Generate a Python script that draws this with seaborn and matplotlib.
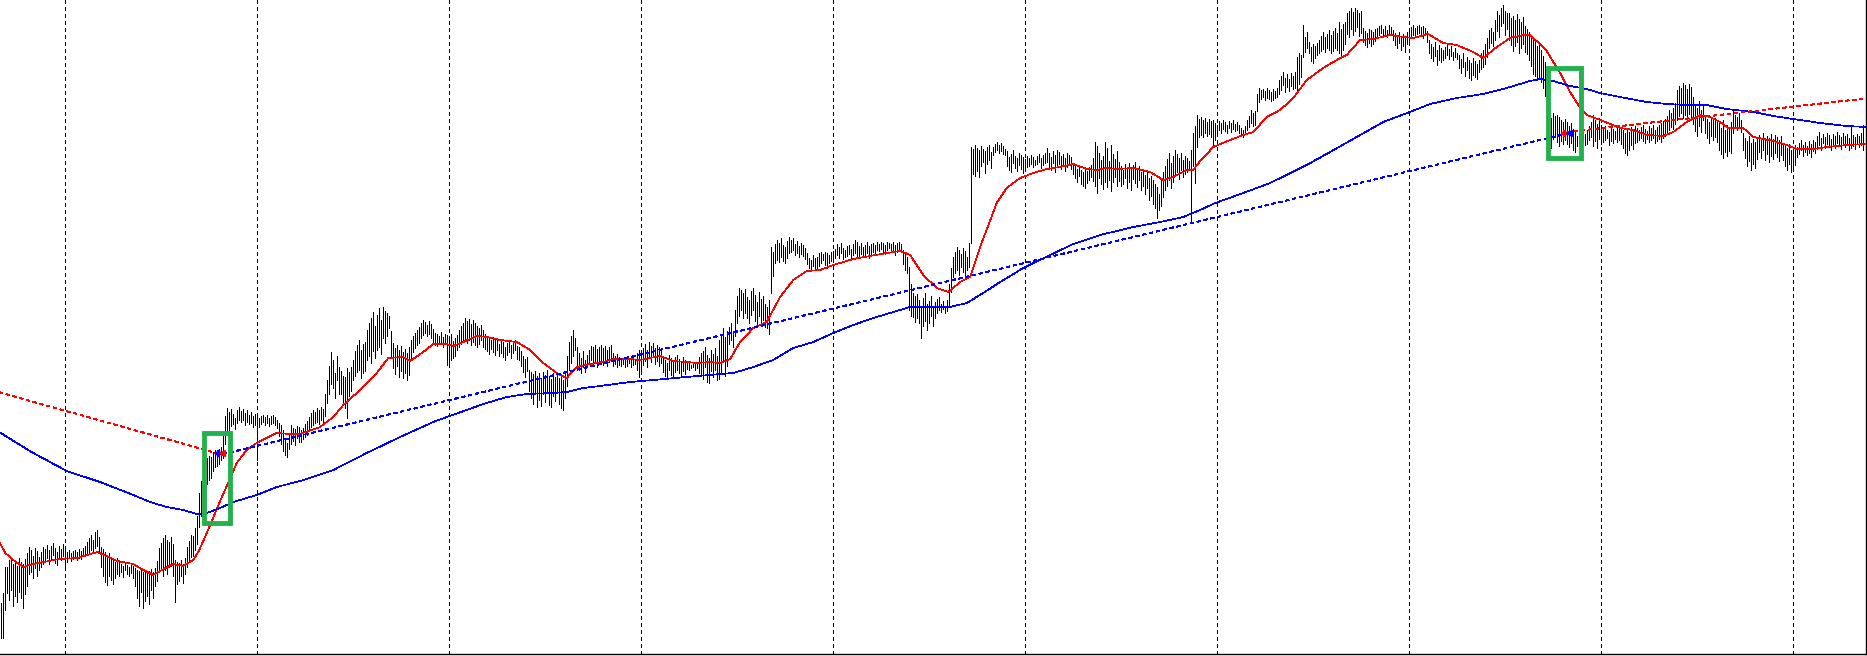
import numpy as np
import pandas as pd
import seaborn as sns
import matplotlib.pyplot as plt
from matplotlib.patches import Rectangle

# bar highs and lows (price points), 15-minute bars, oldest first
highs = [
    53, 63, 89, 89, 96, 98, 92, 96, 90, 98,
    94, 92, 97, 103, 109, 106, 100, 108, 105, 99,
    104, 109, 107, 111, 106, 110, 113, 108, 104, 110,
    107, 112, 106, 104, 106, 103, 105, 106, 104, 107,
    105, 108, 110, 114, 118, 121, 116, 124, 126, 119,
    109, 107, 104, 100, 103, 98, 96, 94, 98, 95,
    92, 90, 94, 91, 89, 92, 90, 88, 86, 85,
    88, 84, 86, 83, 85, 87, 84, 88, 95, 108,
    113, 118, 121, 116, 114, 119, 112, 96, 94, 93,
    96, 92, 98, 109, 115, 121, 120, 128, 140, 163,
    175, 186, 194, 198, 200, 199, 204, 206, 205, 207,
    209, 221, 240, 248, 244, 247, 242, 238, 246, 249,
    245, 247, 243, 246, 241, 244, 240, 242, 243, 238,
    240, 241, 239, 241, 238, 240, 241, 239, 236, 233,
    231, 226, 218, 213, 222, 231, 228, 227, 230, 229,
    226, 228, 232, 235, 239, 243, 246, 244, 248, 246,
    249, 247, 262, 276, 290, 304, 296, 283, 300, 289,
    285, 280, 279, 288, 284, 289, 296, 305, 311, 316,
    306, 312, 314, 326, 333, 338, 344, 330, 341, 348,
    336, 349, 345, 343, 340, 325, 313, 308, 311, 306,
    310, 304, 307, 303, 309, 316, 320, 323, 326, 329,
    333, 336, 334, 331, 335, 332, 327, 323, 322, 320,
    324, 319, 322, 321, 318, 322, 315, 318, 321, 326,
    330, 333, 338, 335, 337, 332, 336, 333, 330, 328,
    331, 326, 322, 319, 318, 316, 319, 317, 316, 312,
    316, 314, 309, 313, 315, 311, 314, 316, 310, 309,
    305, 300, 297, 299, 286, 284, 282, 285, 280, 283,
    278, 284, 281, 286, 280, 277, 283, 279, 284, 278,
    282, 276, 285, 300, 314, 320, 326, 318, 309, 303,
    298, 305, 296, 301, 306, 310, 309, 311, 307, 309,
    311, 308, 310, 306, 309, 311, 303, 300, 302, 299,
    298, 297, 299, 296, 298, 297, 299, 296, 303, 306,
    304, 308, 312, 306, 314, 310, 313, 308, 311, 309,
    306, 300, 296, 293, 301, 298, 294, 299, 301, 297,
    295, 299, 296, 294, 293, 291, 294, 292, 293, 299,
    303, 305, 309, 301, 298, 306, 302, 308, 300, 316,
    322, 328, 319, 325, 329, 333, 323, 346, 360, 368,
    366, 363, 367, 359, 356, 365, 368, 361, 354, 364,
    357, 360, 352, 349, 356, 409, 404, 412, 416, 413,
    418, 411, 409, 415, 419, 416, 418, 412, 415, 410,
    413, 411, 408, 403, 398, 396, 401, 398, 399, 403,
    404, 402, 404, 403, 401, 404, 405, 407, 412, 409,
    413, 408, 406, 410, 411, 407, 412, 416, 414, 410,
    413, 409, 411, 414, 410, 412, 413, 411, 414, 412,
    414, 413, 411, 414, 413, 412, 414, 411, 413, 414,
    412, 406, 403, 399, 389, 372, 363, 360, 362, 356,
    350, 358, 363, 352, 355, 360, 349, 354, 357, 359,
    352, 355, 350, 356, 372, 388, 399, 404, 409, 406,
    402, 408, 405, 399, 413, 509, 507, 511, 508, 506,
    510, 507, 505, 509, 511, 504, 509, 512, 514, 511,
    513, 510, 507, 505, 499, 502, 506, 500, 498, 503,
    501, 499, 497, 500, 498, 501, 499, 496, 500, 502,
    498, 501, 503, 508, 503, 499, 505, 501, 506, 504,
    500, 502, 498, 503, 501, 499, 493, 490, 487, 489,
    486, 484, 488, 485, 489, 491, 498, 514, 510, 503,
    496, 500, 514, 508, 495, 511, 502, 497, 505, 494,
    490, 486, 492, 489, 493, 488, 491, 494, 487, 490,
    484, 486, 481, 484, 478, 480, 476, 472, 469, 462,
    478, 484, 490, 497, 503, 493, 500, 506, 502, 498,
    503, 496, 500, 498, 495, 506, 523, 530, 541, 537,
    539, 536, 538, 534, 537, 535, 536, 533, 531, 535,
    533, 536, 534, 531, 535, 533, 536, 532, 534, 531,
    528, 526, 530, 536, 540, 546, 543, 545, 562, 568,
    566, 567, 565, 568, 566, 564, 567, 565, 568, 576,
    580, 584, 578, 582, 577, 583, 580, 584, 599, 603,
    601, 631, 619, 624, 614, 609, 612, 610, 613, 616,
    620, 624, 619, 622, 626, 621, 625, 628, 623, 634,
    627, 632, 634, 643, 645, 648, 644, 648, 646, 643,
    645, 628, 625, 623, 627, 626, 624, 627, 628, 630,
    631, 627, 630, 626, 631, 629, 626, 623, 621, 624,
    619, 622, 620, 624, 626, 629, 631, 628, 630, 631,
    629, 630, 628, 625, 616, 612, 609, 614, 606, 611,
    608, 606, 609, 611, 607, 610, 604, 608, 603, 601,
    597, 603, 594, 599, 596, 593, 598, 595, 592, 596,
    603, 606, 612, 618, 626, 628, 624, 636, 645, 641,
    648, 651, 645, 643, 643, 638, 640, 636, 642, 637,
    634, 639, 630, 627, 624, 620, 616, 614, 610, 612,
    606, 600, 594, 586, 542, 538, 543, 540, 541, 539,
    536, 534, 537, 534, 530, 533, 527, 526, 520, 523,
    519, 524, 522, 526, 530, 534, 541, 536, 532, 538,
    531, 528, 530, 526, 524, 529, 527, 525, 530, 531,
    528, 526, 523, 527, 524, 529, 525, 530, 528, 526,
    529, 531, 527, 525, 530, 528, 531, 526, 529, 531,
    533, 535, 537, 540, 546, 543, 548, 553, 566, 570,
    568, 573, 571, 567, 572, 569, 559, 552, 548, 555,
    546, 550, 541, 537, 534, 539, 536, 538, 535, 533,
    528, 536, 526, 531, 529, 534, 546, 541, 539, 543,
    536, 523, 518, 515, 520, 513, 517, 514, 519, 521,
    518, 523, 516, 520, 518, 522, 517, 521, 519, 516,
    520, 513, 510, 508, 512, 506, 509, 511, 509, 513,
    516, 511, 514, 510, 515, 512, 516, 514, 520, 524,
    518, 522, 519, 523, 521, 517, 522, 520, 524, 521,
    519, 523, 520, 522, 518, 529, 521, 519, 522, 520,
    523, 531,
]
lows = [
    18, 18, 46, 63, 56, 66, 50, 60, 54, 64,
    58, 48, 62, 70, 82, 84, 78, 88, 80, 86,
    89, 92, 95, 98, 92, 96, 101, 93, 91, 98,
    96, 100, 89, 94, 98, 95, 97, 99, 96, 98,
    97, 100, 101, 103, 104, 106, 103, 108, 110, 104,
    89, 80, 74, 71, 80, 76, 72, 78, 82, 80,
    84, 79, 86, 82, 80, 83, 78, 70, 58, 50,
    64, 48, 55, 60, 52, 66, 58, 70, 75, 84,
    88, 80, 86, 82, 89, 90, 80, 54, 72, 75,
    80, 73, 82, 89, 94, 99, 100, 106, 112, 129,
    140, 152, 169, 172, 176, 178, 185, 189, 190, 192,
    196, 198, 212, 226, 218, 230, 232, 227, 233, 236,
    234, 236, 231, 234, 232, 233, 229, 231, 196, 229,
    232, 234, 231, 233, 230, 232, 233, 231, 228, 220,
    212, 205, 201, 199, 207, 212, 215, 211, 218, 214,
    214, 217, 219, 221, 226, 229, 231, 233, 234, 232,
    236, 234, 240, 253, 262, 272, 268, 258, 276, 262,
    262, 254, 248, 238, 260, 265, 276, 280, 284, 286,
    278, 283, 285, 296, 300, 293, 305, 298, 306, 309,
    302, 318, 313, 320, 328, 300, 288, 282, 290, 279,
    285, 278, 283, 276, 281, 298, 304, 308, 311, 313,
    318, 321, 323, 320, 322, 318, 313, 311, 310, 312,
    314, 309, 312, 291, 293, 296, 298, 300, 306, 309,
    312, 314, 316, 313, 316, 311, 314, 311, 309, 312,
    316, 309, 307, 305, 302, 307, 304, 301, 306, 300,
    303, 299, 296, 301, 304, 298, 303, 306, 297, 296,
    290, 284, 279, 285, 265, 258, 252, 262, 249, 256,
    250, 262, 254, 264, 251, 249, 260, 255, 263, 252,
    248, 246, 258, 270, 286, 293, 300, 306, 290, 286,
    283, 289, 284, 293, 292, 296, 290, 294, 289, 293,
    296, 291, 295, 290, 294, 296, 290, 292, 289, 291,
    290, 292, 289, 290, 293, 289, 291, 292, 286, 279,
    283, 291, 295, 289, 298, 294, 299, 292, 295, 290,
    293, 284, 280, 278, 286, 281, 279, 284, 286, 283,
    280, 285, 282, 287, 286, 288, 289, 286, 288, 283,
    280, 277, 289, 274, 273, 285, 279, 286, 276, 277,
    283, 296, 280, 290, 312, 316, 309, 320, 333, 340,
    346, 338, 343, 338, 333, 341, 346, 335, 330, 340,
    332, 336, 329, 328, 322, 363, 380, 393, 396, 394,
    399, 395, 393, 398, 403, 404, 406, 401, 403, 399,
    402, 400, 397, 392, 388, 386, 390, 387, 388, 390,
    393, 396, 391, 388, 393, 395, 394, 398, 401, 398,
    403, 397, 399, 400, 402, 398, 401, 403, 400, 398,
    402, 399, 400, 403, 398, 401, 404, 403, 406, 405,
    407, 404, 402, 406, 408, 405, 406, 401, 404, 407,
    404, 392, 386, 383, 346, 340, 339, 334, 338, 333,
    318, 330, 335, 326, 333, 340, 330, 338, 343, 346,
    344, 347, 343, 345, 350, 364, 379, 383, 386, 381,
    389, 384, 380, 386, 389, 413, 482, 480, 485, 479,
    490, 494, 483, 492, 496, 488, 501, 504, 506, 503,
    505, 502, 501, 490, 486, 484, 493, 488, 485, 491,
    487, 483, 486, 489, 490, 492, 489, 491, 492, 494,
    488, 491, 493, 494, 488, 486, 493, 484, 490, 492,
    487, 490, 485, 489, 492, 487, 482, 478, 474, 480,
    472, 470, 468, 473, 476, 479, 475, 470, 463, 478,
    472, 467, 474, 469, 476, 465, 474, 479, 470, 475,
    470, 472, 478, 468, 474, 466, 477, 473, 469, 476,
    466, 470, 462, 468, 456, 460, 452, 448, 438, 446,
    450, 459, 466, 470, 476, 468, 474, 480, 484, 477,
    486, 479, 482, 484, 486, 433, 490, 473, 509, 519,
    521, 519, 523, 520, 522, 519, 509, 516, 524, 526,
    523, 527, 525, 523, 528, 524, 527, 525, 526, 523,
    520, 519, 522, 526, 529, 533, 530, 531, 545, 554,
    557, 559, 556, 558, 557, 555, 556, 558, 559, 562,
    566, 571, 564, 569, 565, 570, 567, 568, 564, 572,
    579, 599, 604, 608, 603, 595, 593, 598, 601, 603,
    605, 607, 604, 608, 606, 603, 605, 608, 606, 603,
    601, 606, 612, 622, 619, 627, 621, 625, 629, 620,
    623, 614, 611, 609, 613, 610, 612, 615, 619, 621,
    623, 620, 622, 619, 623, 621, 616, 611, 608, 613,
    606, 610, 604, 612, 613, 618, 621, 619, 622, 623,
    620, 618, 621, 614, 603, 598, 595, 600, 591, 596,
    594, 596, 598, 601, 597, 600, 596, 599, 597, 588,
    583, 589, 580, 586, 578, 576, 581, 579, 577, 584,
    587, 589, 592, 599, 608, 613, 610, 616, 625, 619,
    630, 633, 621, 627, 616, 611, 605, 610, 614, 603,
    608, 612, 604, 602, 596, 590, 582, 580, 576, 578,
    574, 568, 560, 548, 512, 508, 517, 519, 514, 510,
    515, 512, 516, 512, 509, 513, 506, 504, 510, 513,
    509, 514, 511, 512, 516, 519, 510, 515, 508, 517,
    512, 514, 516, 518, 511, 515, 513, 517, 514, 516,
    512, 508, 503, 501, 506, 511, 507, 513, 514, 516,
    518, 515, 513, 517, 514, 516, 518, 513, 515, 517,
    514, 518, 520, 523, 526, 529, 527, 532, 536, 540,
    543, 538, 541, 537, 542, 539, 532, 525, 520, 530,
    524, 536, 523, 518, 513, 520, 516, 519, 514, 506,
    502, 498, 504, 500, 505, 503, 523, 528, 526, 530,
    524, 506, 498, 490, 495, 486, 492, 488, 497, 504,
    498, 506, 496, 502, 494, 500, 497, 503, 499, 495,
    501, 496, 490, 486, 492, 484, 487, 491, 499, 502,
    506, 500, 504, 501, 503, 499, 505, 503, 507, 511,
    506, 513, 508, 512, 509, 506, 511, 508, 513, 510,
    507, 512, 509, 511, 506, 508, 510, 507, 512, 509,
    511, 506,
]

# fast moving average (red), read at sampled bars
fast_ma_bar = [
    -1, 2, 6, 11, 16, 29, 38, 48, 58, 66,
    71, 76, 83, 86, 91, 96, 99, 104, 109, 114,
    117.7, 122.7, 127.7, 132.7, 137.7, 144.4, 149.4, 159.4, 166, 171,
    179.4, 187.7, 193.5, 201, 204.4, 211, 216, 222.7, 226, 231,
    237.7, 242.7, 249.4, 257.7, 264.4, 271, 277.7, 282.7, 287.7, 294.4,
    301, 306, 314.4, 319.4, 329.4, 336, 342.7, 347.7, 354.4, 359.4,
    364.4, 369.4, 376, 382.7, 389.4, 396, 402.7, 409.4, 416, 426,
    434.4, 442.7, 449.4, 454.4, 461, 467.7, 473.5, 479.4, 484.4, 489.4,
    497.7, 502.7, 509.4, 516, 522.7, 529.4, 536, 542.7, 547.7, 552.7,
    557.7, 566, 574.4, 581, 586, 592.7, 596, 599.4, 606, 614.4,
    621, 626, 632.7, 639.4, 646, 652.7, 661, 667.7, 672.7, 679.4,
    686, 694.4, 701, 706, 713.5, 721, 727.7, 736, 741, 747.7,
    754.4, 761, 764.4, 772.4, 779.4, 784.4, 788.5, 792.7, 799.4, 809.4,
    816, 822.7, 831, 836, 842.7, 849.4, 854.4, 859.4, 863.5, 871,
    876, 886, 892.7, 897.7, 906, 912.7, 922.7, 932.7,
]
fast_ma = [
    114, 103, 96, 89, 92, 97, 98, 104, 95, 92,
    86, 81, 89, 92, 90, 96, 106, 129, 153, 176,
    193, 206, 213, 218, 223, 222, 222, 229, 239, 251,
    266, 283, 298, 299, 295, 304, 312, 312, 310, 314,
    320, 319, 316, 314, 306, 293, 283, 278, 289, 292,
    294, 297, 297, 296, 300, 295, 294, 293, 294, 293,
    297, 314, 328, 334, 359, 376, 385, 386, 391, 397,
    400, 403, 405, 401, 381, 368, 364, 374, 379, 409,
    453, 468, 478, 483, 487, 489, 492, 487, 486, 488,
    487, 488, 484, 476, 479, 486, 486, 495, 509, 516,
    521, 524, 539, 546, 558, 576, 588, 596, 601, 616,
    617, 621, 619, 618, 622, 613, 611, 604, 598, 609,
    618, 621, 621, 606, 583, 564, 551, 541, 536, 528,
    526, 521, 520, 524, 534, 541, 539, 534, 528, 528,
    519, 515, 511, 507, 507, 509, 511, 512,
]

# slow moving average (blue), read at sampled bars
slow_ma_bar = [
    -1, 7.7, 16, 32.7, 49.4, 66, 74.4, 82.7, 91, 97.7,
    102.7, 109.4, 116, 127.7, 137.7, 149.4, 166, 182.7, 199.4, 216,
    222.7, 232.7, 241, 252.7, 262.7, 276, 282.7, 291, 299.4, 314.4,
    326, 342.7, 359.4, 366, 376, 386, 396, 406, 416, 426,
    436, 446, 454.4, 466, 474.4, 482.7, 491, 499.4, 511, 524.4,
    536, 549.4, 566, 579.4, 591, 599.4, 607, 621, 634.4, 652.7,
    664.4, 677.7, 691, 703, 714.4, 727.7, 741, 752.7, 764.4, 769.4,
    776, 784.4, 792.7, 799.4, 809.4, 822.7, 832.7, 842.7, 852.7, 862.7,
    876, 886, 896, 909.4, 922.7, 932.7,
]
slow_ma = [
    224, 213, 203, 185, 174, 161, 154, 149, 146, 142,
    143, 148, 154, 161, 169, 175, 186, 203, 219, 234,
    239, 246, 252, 259, 262, 263, 264, 268, 270, 274,
    276, 279, 282, 283, 289, 296, 308, 314, 323, 331,
    338, 344, 349, 349, 349, 353, 363, 374, 388, 401,
    412, 421, 429, 434, 439, 446, 453, 463, 473, 491,
    504, 519, 534, 543, 552, 558, 562, 568, 575, 577,
    575, 570, 567, 563, 559, 554, 552, 551, 551, 547,
    544, 540, 537, 533, 530, 529,
]

# first bar of each day
day_starts = [32, 128, 224, 320, 416, 512, 608, 704, 800, 896]

# signal trend lines (bar, price)
red_left_bar = [-1, 110.5]
red_left_price = [263.7, 201.3]
blue_trend_bar = [111, 784]
blue_trend_price = [202, 523]
red_right_bar = [783, 933]
red_right_price = [524, 557.7]

# signal markers
sig_bar = [108.5, 110.5, 781.5, 784]
sig_price = [202.7, 202.7, 523.3, 523.3]

# highlight boxes: (first bar, last bar, low price, high price)
boxes = [(101.3, 114.4, 132.6, 222.7), (773.1, 789.75, 498.5, 588.5)]

sns.set_theme(style="white")

fig = plt.figure(figsize=(18.67, 6.56), dpi=100)
ax = fig.add_axes([0, 2 / 656, 1866 / 1867, 654 / 656])

px = 0.72  # one pixel in points

for d in day_starts:
    ax.axvline(d, color="black", linewidth=px, linestyle=(0, (4, 3)),
               antialiased=False, zorder=1)

bar_idx = np.arange(len(highs))
ax.vlines(bar_idx, lows, highs, colors="black", linewidth=px,
          antialiased=False, zorder=2)

fast = pd.DataFrame({"bar": fast_ma_bar, "price": fast_ma})
slow = pd.DataFrame({"bar": slow_ma_bar, "price": slow_ma})
sns.lineplot(data=fast, x="bar", y="price", color="#ff0000", linewidth=0.5,
             antialiased=False, ax=ax, zorder=3)
sns.lineplot(data=slow, x="bar", y="price", color="#0000ff", linewidth=0.5,
             antialiased=False, ax=ax, zorder=3)

for bx, py, col in [(red_left_bar, red_left_price, "#ff0000"),
                    (blue_trend_bar, blue_trend_price, "#0000ff"),
                    (red_right_bar, red_right_price, "#ff0000")]:
    ax.plot(bx, py, color=col, linewidth=px, linestyle=(0, (4, 3.5)),
            antialiased=False, zorder=3)

ax.plot(sig_bar[0], sig_price[0], marker="P", color="#0000ff", markersize=5, zorder=4)
ax.plot(sig_bar[1], sig_price[1], marker="<", color="#ff0000", markersize=4, zorder=4)
ax.plot(sig_bar[2], sig_price[2], marker="P", color="#ff0000", markersize=5, zorder=4)
ax.plot(sig_bar[3], sig_price[3], marker="<", color="#0000ff", markersize=4, zorder=4)

for b0, b1, p0, p1 in boxes:
    ax.add_patch(Rectangle((b0, p0), b1 - b0, p1 - p0, fill=False,
                           edgecolor="#22b14c", linewidth=3.5,
                           joinstyle="miter", zorder=5))

ax.set_xlim(-0.65, 932.35)
ax.set_ylim(2, 656)
ax.set_xticks([])
ax.set_yticks([])
ax.set_xlabel("")
ax.set_ylabel("")
for side in ["left", "top"]:
    ax.spines[side].set_visible(False)
for side in ["bottom", "right"]:
    ax.spines[side].set_color("black")
    ax.spines[side].set_linewidth(1.0)

fig.savefig("out.png", dpi=100)
